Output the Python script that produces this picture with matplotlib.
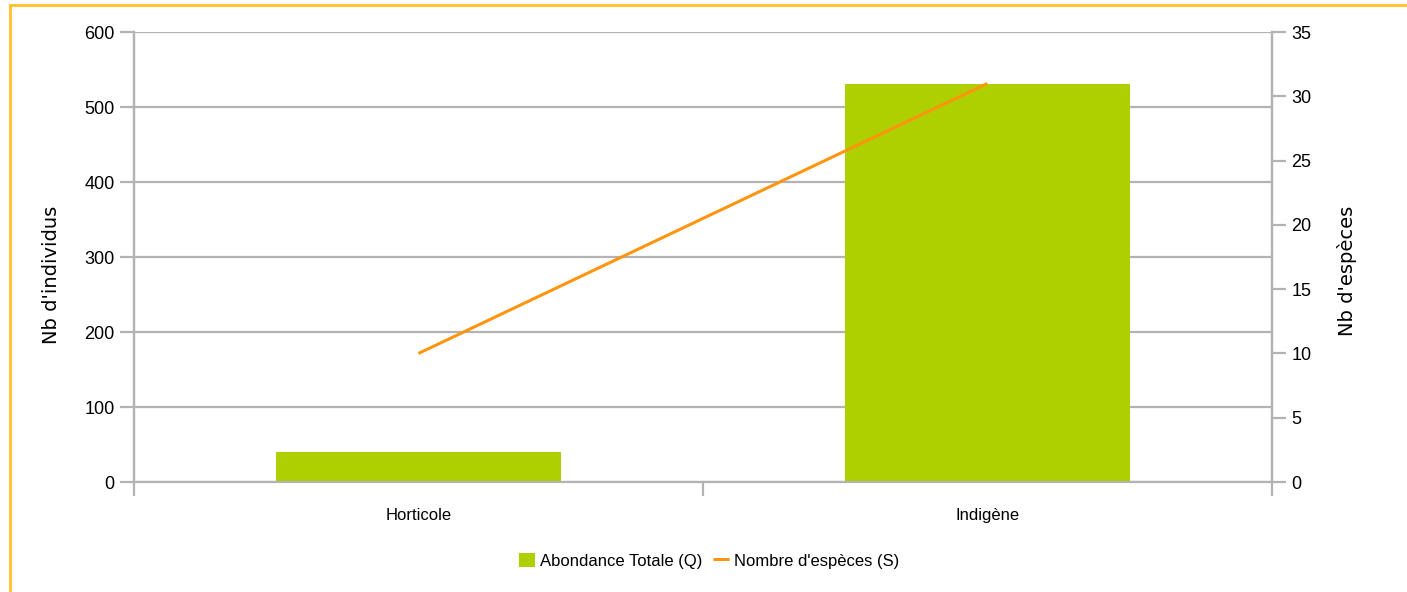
import matplotlib
matplotlib.use("Agg")
from matplotlib import pyplot as plt
from matplotlib.lines import Line2D
import numpy as np

# data
categories = ["Horticole", "Indigène"]
abondance = [40, 531]      # Abondance Totale (Q)
nb_especes = [10, 31]      # Nombre d'espèces (S)
left_ticks = [0, 100, 200, 300, 400, 500, 600]
right_ticks = [0, 5, 10, 15, 20, 25, 30, 35]

BAR_COLOR = "#aecf00"
LINE_COLOR = "#ff950e"
GRID = "#b3b3b3"
FRAME = "#ffc125"

plt.rcParams['font.family'] = ['Liberation Sans', 'DejaVu Sans']
NARROW = ['Liberation Sans Narrow', 'Liberation Sans', 'DejaVu Sans']

fig = plt.figure(figsize=(14.07, 5.92), dpi=100)
ax = fig.add_axes([0.0952, 0.1858, 0.8088, 0.7601])
ax2 = ax.twinx()

x = np.arange(len(categories))
bars = ax.bar(x, abondance, width=0.5, color=BAR_COLOR, zorder=2,
              label="Abondance Totale (Q)")
line, = ax2.plot(x, nb_especes, color=LINE_COLOR, lw=2.2,
                 solid_capstyle='butt', label="Nombre d'espèces (S)")

ax.set_xlim(-0.5, len(categories) - 0.5)
ax.set_ylim(0, 600)
ax2.set_ylim(0, 35)

ax.set_yticks(left_ticks)
ax2.set_yticks(right_ticks)
ax.yaxis.grid(True, color=GRID, lw=1.6, zorder=0)
ax.set_axisbelow(True)

# category boundaries get tick marks, names sit at the centres
ax.set_xticks(np.arange(-0.5, len(categories), 1.0))
ax.set_xticklabels([])
ax.set_xticks(x, minor=True)
ax.set_xticklabels(categories, minor=True, family=NARROW, fontsize=12)
ax.tick_params(axis='x', which='major', length=10, width=1.6, color=GRID)
ax.tick_params(axis='x', which='minor', length=0, pad=19)

ax.tick_params(axis='y', length=10, width=1.6, color=GRID, pad=4)
ax2.tick_params(axis='y', length=10, width=1.6, color=GRID, pad=4)
for lab in ax.get_yticklabels() + ax2.get_yticklabels():
    lab.set_family(NARROW)
    lab.set_fontsize(13)

for a in (ax, ax2):
    a.spines['top'].set_visible(False)
    for s in ('left', 'right', 'bottom'):
        a.spines[s].set_color(GRID)
        a.spines[s].set_linewidth(1.6)
ax2.spines['bottom'].set_visible(False)

ax.set_ylabel("Nb d'individus", fontsize=14, family='DejaVu Sans')
ax2.set_ylabel("Nb d'espèces", fontsize=14, family='DejaVu Sans')
ax.yaxis.set_label_coords(-0.064, 0.46)
ax2.yaxis.set_label_coords(1.057, 0.469)

leg = fig.legend([bars, line], ["Abondance Totale (Q)", "Nombre d'espèces (S)"],
                 loc='center', bbox_to_anchor=(0.504, 0.053), ncol=2,
                 frameon=False, prop={'family': NARROW, 'size': 12},
                 handlelength=1.0, handleheight=1.0, handletextpad=0.3,
                 columnspacing=0.6)

# yellow frame (top and left edges visible in the reference)
fig.add_artist(Line2D([0.0071, 0.9993], [0.9916, 0.9916], color=FRAME,
                      lw=2, transform=fig.transFigure))
fig.add_artist(Line2D([0.0071, 0.0071], [0.0, 0.9916], color=FRAME,
                      lw=2, transform=fig.transFigure))

fig.savefig("out.png", dpi=100)
